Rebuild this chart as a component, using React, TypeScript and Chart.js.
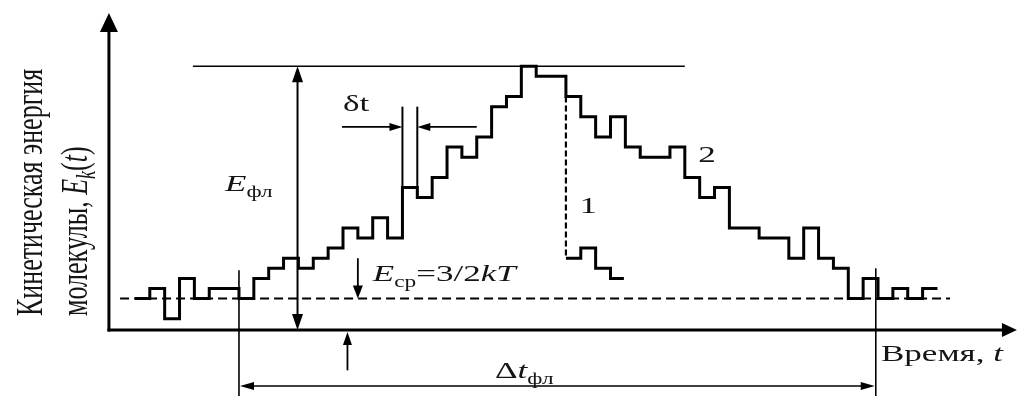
import React, { useEffect, useRef } from 'react';
import { Chart, registerables } from 'chart.js';

Chart.register(...registerables);

// Time is measured in sampling steps δt, energy in quantisation levels above the mean E_ср (0).
const CURVE2_T = [0, 1, 2, 3, 4, 5, 7, 8, 9, 10, 11, 12, 13, 14, 15, 16, 17, 18, 19, 20, 21, 22, 23, 24, 25, 26, 27, 29, 30, 31, 32, 33, 34, 36, 37, 38, 39, 40, 42, 44, 45, 46, 47, 48, 49, 50, 51, 52, 53, 54];
const CURVE2_E = [0, 1, -2, 2, 0, 1, 0, 2, 3, 4, 3, 4, 5, 7, 6, 8, 6, 11, 10, 12, 15, 14, 16, 19, 20, 23, 22, 20, 18, 16, 18, 15, 14, 15, 12, 10, 11, 7, 6, 4, 7, 4, 3, 0, 2, 0, 1, 0, 1, 1];
const CURVE1_T = [29, 30, 31, 32, 32.9];
const CURVE1_E = [4, 5, 3, 2, 2];
const BRANCH_T = [29, 29];
const BRANCH_E = [20, 4];
const MEAN_T = [-1, 54.85];
const MEAN_E = [0, 0];

const PEAK_E = 23;
const AXIS_E = -3.1; // true zero of energy (time axis)
const AXIS_T = -1.75; // time origin (energy axis)
const FLUCT_T = [7, 49.85]; // start / end of fluctuation Δt_фл
const DT_T = [18, 19]; // one sampling step δt

const X_MIN = -9.08, X_MAX = 59.42, Y_MIN = -9.64, Y_MAX = 29.56;

const FONT = '"Liberation Serif", "Times New Roman", serif';
const SX = 1.46;
type Part = { s: string; it?: boolean; sub?: boolean };

function font(size: number, it?: boolean) {
  return `${it ? 'italic ' : ''}${size}px ${FONT}`;
}

function drawRich(ctx: CanvasRenderingContext2D, parts: Part[], x: number, cy: number, size: number, align: 'left' | 'center', rot = 0) {
  const subSize = Math.round(size * 0.68);
  let total = 0;
  const widths = parts.map((p) => {
    ctx.font = font(p.sub ? subSize : size, p.it);
    const w = ctx.measureText(p.s).width;
    total += w;
    return w;
  });
  ctx.save();
  ctx.translate(x, cy);
  ctx.scale(SX, 1);
  if (rot) ctx.rotate(rot);
  let cx = align === 'center' ? -total / 2 : 0;
  const base = size * 0.33;
  ctx.textAlign = 'left';
  ctx.textBaseline = 'alphabetic';
  ctx.fillStyle = '#151515';
  parts.forEach((p, i) => {
    ctx.font = font(p.sub ? subSize : size, p.it);
    ctx.fillText(p.s, cx, p.sub ? base + size * 0.22 : base);
    cx += widths[i];
  });
  ctx.restore();
}

function line(ctx: CanvasRenderingContext2D, x1: number, y1: number, x2: number, y2: number, w: number) {
  ctx.save();
  ctx.lineWidth = w;
  ctx.strokeStyle = '#000';
  ctx.beginPath();
  ctx.moveTo(x1, y1);
  ctx.lineTo(x2, y2);
  ctx.stroke();
  ctx.restore();
}

function head(ctx: CanvasRenderingContext2D, x: number, y: number, dir: 'up' | 'down' | 'left' | 'right', len: number, half: number) {
  ctx.save();
  ctx.fillStyle = '#000';
  ctx.beginPath();
  ctx.moveTo(x, y);
  if (dir === 'up') { ctx.lineTo(x - half, y + len); ctx.lineTo(x + half, y + len); }
  if (dir === 'down') { ctx.lineTo(x - half, y - len); ctx.lineTo(x + half, y - len); }
  if (dir === 'left') { ctx.lineTo(x + len, y - half); ctx.lineTo(x + len, y + half); }
  if (dir === 'right') { ctx.lineTo(x - len, y - half); ctx.lineTo(x - len, y + half); }
  ctx.closePath();
  ctx.fill();
  ctx.restore();
}

const annotations = {
  id: 'annotations',
  afterDatasetsDraw(chart: any) {
    const ctx: CanvasRenderingContext2D = chart.ctx;
    const xs = chart.scales.x, ys = chart.scales.y;
    const X = (t: number) => xs.getPixelForValue(t);
    const Y = (e: number) => ys.getPixelForValue(e);
    const area = chart.chartArea;

    // axes
    const ax = X(AXIS_T), ay = Y(AXIS_E);
    line(ctx, ax, ay + 1.5, ax, Y(28.28) + 16, 3);
    head(ctx, ax, Y(28.28), 'up', 19, 9);
    line(ctx, ax - 1.5, ay, X(59.35) - 12, ay, 3);
    head(ctx, X(59.35), ay, 'right', 15, 7);

    // peak level line
    line(ctx, X(3.9), Y(PEAK_E), X(37), Y(PEAK_E), 1.6);

    // E_фл double arrow
    const ex = X(10.94);
    line(ctx, ex, Y(PEAK_E) + 10, ex, ay - 10, 2);
    head(ctx, ex, Y(PEAK_E), 'up', 16, 5.5);
    head(ctx, ex, ay, 'down', 16, 5.5);
    drawRich(ctx, [{ s: 'E', it: true }, { s: 'фл', sub: true }], X(6.06), Y(11.4), 24, 'left');

    // δt markers
    line(ctx, X(DT_T[0]), Y(19), X(DT_T[0]), Y(11), 2);
    line(ctx, X(DT_T[1]), Y(19), X(DT_T[1]), Y(10), 2);
    line(ctx, X(13.93), Y(17), X(DT_T[0]) - 8, Y(17), 1.6);
    head(ctx, X(DT_T[0]), Y(17), 'right', 13, 4);
    line(ctx, X(23), Y(17), X(DT_T[1]) + 8, Y(17), 1.6);
    head(ctx, X(DT_T[1]), Y(17), 'left', 13, 4);
    drawRich(ctx, [{ s: 'δt' }], X(14.0), Y(19.4), 24, 'left');

    // E_ср arrow & label
    line(ctx, X(15), Y(4), X(15), Y(0) - 8, 1.8);
    head(ctx, X(15), Y(0), 'down', 13, 5);
    drawRich(ctx, [{ s: 'E', it: true }, { s: 'ср', sub: true }, { s: '=3/2' }, { s: 'kT', it: true }], X(16.0), Y(2.5), 24, 'left');

    // arrow below axis
    line(ctx, X(14.3), Y(-7.1), X(14.3), ay + 8, 1.8);
    head(ctx, X(14.3), ay + 2, 'up', 13, 4.5);

    // Δt_фл
    const bottom = area.bottom;
    line(ctx, X(FLUCT_T[0]), Y(2.8), X(FLUCT_T[0]), bottom, 1.6);
    line(ctx, X(FLUCT_T[1]), Y(3), X(FLUCT_T[1]), bottom, 1.6);
    const dy = Y(-8.65);
    line(ctx, X(FLUCT_T[0]) + 8, dy, X(FLUCT_T[1]) - 8, dy, 1.6);
    head(ctx, X(FLUCT_T[0]) + 1, dy, 'left', 14, 4);
    head(ctx, X(FLUCT_T[1]) - 1, dy, 'right', 14, 4);
    drawRich(ctx, [{ s: 'Δ' }, { s: 't', it: true }, { s: 'фл', sub: true }], X(26.2), Y(-7.1), 24, 'center');

    // axis titles
    drawRich(ctx, [{ s: 'Время, ' }, { s: 't', it: true }], X(50.2), Y(-5.4), 24, 'left');
    drawRich(ctx, [{ s: 'Кинетическая энергия' }], 29, 316, 26, 'left', -Math.PI / 2);
    drawRich(ctx, [{ s: 'молекулы, ' }, { s: 'E', it: true }, { s: 'k', it: true, sub: true }, { s: '(' }, { s: 't', it: true }, { s: ')' }], 74, 316, 26, 'left', -Math.PI / 2);

    // curve labels
    drawRich(ctx, [{ s: '1' }], X(30.5), Y(9.26), 24, 'center');
    drawRich(ctx, [{ s: '2' }], X(38.5), Y(14.3), 24, 'center');
  },
};

const pts = (ts: number[], es: number[]) => ts.map((t, i) => ({ x: t, y: es[i] }));

export default function App() {
  const ref = useRef<HTMLCanvasElement | null>(null);
  useEffect(() => {
    document.body.style.margin = '0';
    const canvas = ref.current!;
    const chart = new Chart(canvas, {
      type: 'line',
      data: {
        datasets: [
          { data: pts(CURVE2_T, CURVE2_E), stepped: true, borderColor: '#000', borderWidth: 3, pointRadius: 0, fill: false, order: 1 } as any,
          { data: pts(CURVE1_T, CURVE1_E), stepped: true, borderColor: '#000', borderWidth: 3, pointRadius: 0, fill: false, order: 2 } as any,
          { data: pts(BRANCH_T, BRANCH_E), borderColor: '#000', borderWidth: 2.2, borderDash: [6, 3], pointRadius: 0, fill: false, order: 3 } as any,
          { data: pts(MEAN_T, MEAN_E), borderColor: '#000', borderWidth: 2, borderDash: [9, 5], pointRadius: 0, fill: false, order: 4 } as any,
        ],
      },
      options: {
        animation: false,
        responsive: false,
        maintainAspectRatio: false,
        devicePixelRatio: 1,
        events: [],
        layout: { padding: 0 },
        plugins: { legend: { display: false }, tooltip: { enabled: false }, title: { display: false } },
        scales: {
          x: { type: 'linear', display: false, min: X_MIN, max: X_MAX, bounds: 'data' },
          y: { type: 'linear', display: false, min: Y_MIN, max: Y_MAX, bounds: 'data' },
        },
      },
      plugins: [annotations],
    });
    return () => chart.destroy();
  }, []);
  return <canvas ref={ref} width={1018} height={396} style={{ display: 'block', width: 1018, height: 396 }} />;
}
